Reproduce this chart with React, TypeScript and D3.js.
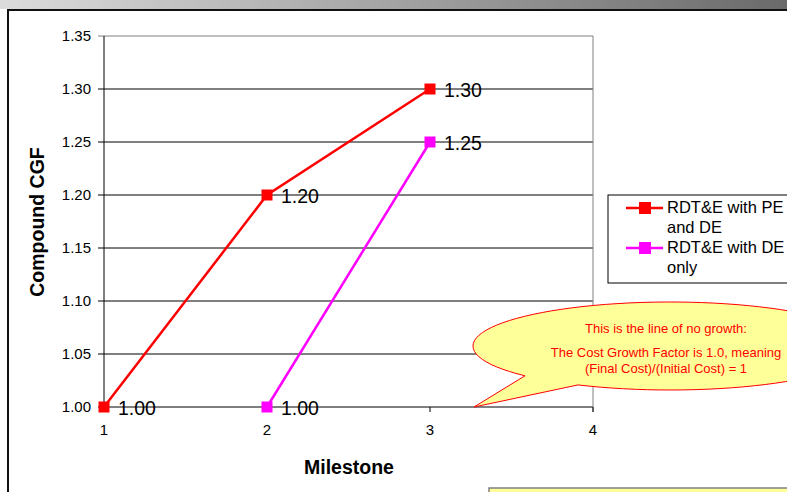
import React from "react";
import * as d3 from "d3";

// Milestones on the x axis and compound cost growth factor per series
const milestones = [1, 2, 3];
const peAndDe = [1.0, 1.2, 1.3];
const deOnly: (number | null)[] = [null, 1.0, 1.25];
const yTicks = [1.0, 1.05, 1.1, 1.15, 1.2, 1.25, 1.3, 1.35];
const xTicks = [1, 2, 3, 4];
const seriesNames = ["RDT&E with PE|and DE", "RDT&E with DE|only"];
const seriesColors = ["#ff0000", "#ff00ff"];
const calloutLines = [
  "This is the line of no growth:",
  "The Cost Growth Factor is 1.0, meaning",
  "(Final Cost)/(Initial Cost) = 1",
];

const W = 787;
const H = 492;
const FONT = "'Liberation Sans', Arial, sans-serif";

export default function App() {
  const x = d3.scaleLinear().domain([1, 4]).range([104, 593]);
  const y = d3.scaleLinear().domain([1.0, 1.35]).range([407, 36]);

  const series = [peAndDe, deOnly];
  const line = d3
    .line<number | null>()
    .defined((d) => d != null)
    .x((_, i) => x(milestones[i]))
    .y((d) => y(d as number));

  // speech-bubble callout pointing at the no-growth line
  const cx = 670;
  const cy = 346;
  const rx = 197;
  const ry = 44;
  const tipX = x(3.27);
  const tipY = y(1.0);
  const base1 = [cx - 145, cy + ry * Math.sqrt(1 - (145 / rx) ** 2)];
  const base2 = [cx - 92, cy + ry * Math.sqrt(1 - (92 / rx) ** 2)];
  const bubble = `M${base1[0]},${base1[1]} L${tipX},${tipY} L${base2[0]},${base2[1]} A${rx},${ry} 0 1 0 ${base1[0]},${base1[1]} Z`;

  return (
    <svg
      width={W}
      height={H}
      style={{ position: "fixed", left: 0, top: 0, background: "#fff" }}
      fontFamily={FONT}
    >
      <defs>
        <linearGradient id="topbar" x1="0" x2="1" y1="0" y2="0">
          <stop offset="0" stopColor="#dcdcdc" />
          <stop offset="1" stopColor="#6a6a6a" />
        </linearGradient>
      </defs>
      <rect x={0} y={0} width={W} height={9} fill="url(#topbar)" />
      <path d={`M8,${H} V10 H${W}`} fill="none" stroke="#111" strokeWidth={2} />

      {/* gridlines and plot frame */}
      {yTicks.map((t) => (
        <line
          key={t}
          x1={98}
          x2={593}
          y1={y(t)}
          y2={y(t)}
          stroke={t === 1.35 ? "#808080" : "#000"}
          strokeWidth={1}
        />
      ))}
      <line x1={593} x2={593} y1={36} y2={412} stroke="#808080" />
      <line x1={104} x2={104} y1={36} y2={407} stroke="#000" />
      {xTicks.map((t) => (
        <line key={t} x1={x(t)} x2={x(t)} y1={407} y2={412} stroke="#000" />
      ))}

      {yTicks.map((t) => (
        <text key={t} x={91} y={y(t) + 5} textAnchor="end" fontSize={15} fill="#000">
          {t.toFixed(2)}
        </text>
      ))}
      {xTicks.map((t) => (
        <text key={t} x={x(t)} y={435} textAnchor="middle" fontSize={15} fill="#000">
          {t}
        </text>
      ))}

      <text
        transform="translate(44,222) rotate(-90)"
        textAnchor="middle"
        fontSize={19.5}
        fontWeight="bold"
      >
        Compound CGF
      </text>
      <text x={349} y={474} textAnchor="middle" fontSize={19.5} fontWeight="bold">
        Milestone
      </text>

      {/* series lines, markers and value labels */}
      {series.map((s, si) => (
        <g key={si}>
          <path d={line(s) || ""} fill="none" stroke={seriesColors[si]} strokeWidth={2.5} />
          {s.map((v, i) =>
            v == null ? null : (
              <g key={i}>
                <rect
                  x={x(milestones[i]) - 5.5}
                  y={y(v) - 5.5}
                  width={11}
                  height={11}
                  fill={seriesColors[si]}
                />
                <text x={x(milestones[i]) + 14} y={y(v) + 7.5} fontSize={19.5} fill="#000">
                  {v.toFixed(2)}
                </text>
              </g>
            )
          )}
        </g>
      ))}

      {/* legend */}
      <rect x={608} y={195} width={190} height={88} fill="#fff" stroke="#000" strokeWidth={1} />
      {seriesNames.map((n, i) => {
        const ly = 208 + i * 40;
        const [l1, l2] = n.split("|");
        return (
          <g key={n}>
            <line x1={626} x2={663} y1={ly} y2={ly} stroke={seriesColors[i]} strokeWidth={2.5} />
            <rect x={639} y={ly - 6} width={12} height={12} fill={seriesColors[i]} />
            <text x={667} y={ly + 5} fontSize={16.5} fill="#000">
              {l1}
            </text>
            <text x={667} y={ly + 25} fontSize={16.5} fill="#000">
              {l2}
            </text>
          </g>
        );
      })}

      {/* callout */}
      <path d={bubble} fill="#ffff99" stroke="#ff0000" strokeWidth={1} />
      {calloutLines.map((t, i) => (
        <text
          key={t}
          x={666}
          y={[333, 357, 373][i]}
          textAnchor="middle"
          fontSize={13}
          fill="#ff0000"
        >
          {t}
        </text>
      ))}

      {/* lower note box */}
      <rect x={489} y={488} width={300} height={10} fill="#ffff99" stroke="#808080" strokeWidth={1.5} />
    </svg>
  );
}
